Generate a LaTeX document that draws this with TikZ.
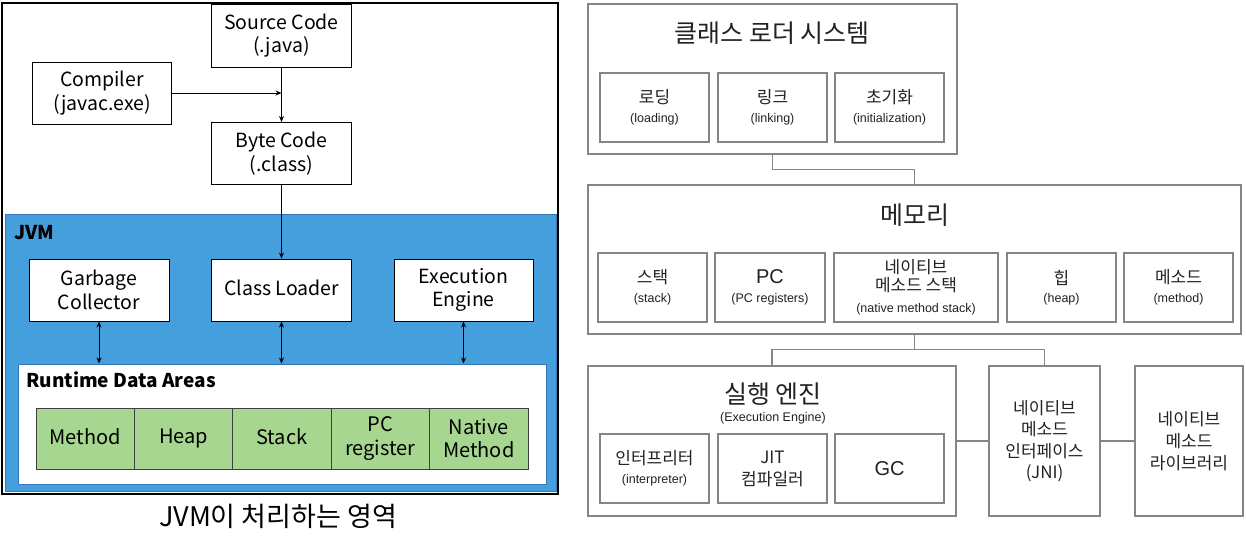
\documentclass[tikz,border=0pt]{standalone}
\usepackage{fontspec}
\setmainfont{Liberation Sans}
\newfontfamily\kr{Noto Sans CJK KR}
\usetikzlibrary{arrows.meta}
\definecolor{jvmblue}{HTML}{449FDC}
\definecolor{jvmedge}{HTML}{3478B8}
\definecolor{cellgreen}{HTML}{A6D68F}
\definecolor{celledge}{HTML}{404040}
\definecolor{rline}{HTML}{858585}
\definecolor{rtext}{HTML}{222222}
\tikzset{
  lbox/.style={draw=black, line width=1pt, fill=white, inner sep=0pt, align=center,
    font=\kr\fontsize{19.5}{23.5}\selectfont},
  cell/.style={draw=celledge, line width=1pt, fill=cellgreen, inner sep=0pt, align=center,
    minimum width=98.4, minimum height=61, font=\kr\fontsize{20}{23.5}\selectfont},
  larr/.style={line width=1pt, -{Stealth[length=6pt,width=5pt]}},
  darr/.style={line width=1pt, {Stealth[length=6pt,width=5pt]}-{Stealth[length=6pt,width=5pt]}},
  rbox/.style={draw=rline, line width=1.3pt, fill=white, inner sep=0pt, align=center, text=rtext},
  rsub/.style={rbox, minimum height=69, font=\fontsize{12.5}{18.5}\selectfont},
  rtitle/.style={text=rtext, inner sep=0pt, font=\kr\fontsize{25}{28}\selectfont},
  rcon/.style={draw=rline, line width=1.4pt},
}
\newcommand{\kl}[1]{{\kr\fontsize{17}{20}\selectfont #1}}
\begin{document}
\begin{tikzpicture}[x=1pt,y=-1pt]
\useasboundingbox (0,0) rectangle (1246,546);
\fill[white] (0,0) rectangle (1246,546);
% ---------------- left panel ----------------
\draw[line width=2.5pt] (2,3) rectangle (558,494);
\draw[fill=jvmblue, draw=jvmedge, line width=1pt] (5,214) rectangle (556,491);
\node[anchor=west, inner sep=0pt, font=\kr\bfseries\fontsize{19}{22}\selectfont] (jvm) at (14,233) {JVM};

\node[lbox, minimum width=140, minimum height=63] (src) at (281.5,35.5) {Source Code\\(.java)};
\node[lbox, minimum width=139, minimum height=62] (comp) at (102,93) {Compiler\\(javac.exe)};
\node[lbox, minimum width=140, minimum height=62] (byte) at (281.5,153.5) {Byte Code\\(.class)};
\node[lbox, minimum width=140, minimum height=62] (gc) at (99,290) {Garbage\\Collector};
\node[lbox, minimum width=140, minimum height=62] (cl) at (281.5,290) {Class Loader\vphantom{Lp}};
\node[lbox, minimum width=139, minimum height=62] (ee) at (463.5,290) {Execution\\Engine};
\node[draw=jvmedge, line width=1pt, fill=white, minimum width=528, minimum height=120, inner sep=0pt] (rda) at (282,424) {};
\node[anchor=west, inner sep=0pt, font=\kr\bfseries\fontsize{19}{22}\selectfont] (rdal) at (26,380) {Runtime Data Areas};

\node[cell] (m1) at (85.2,438.5) {Method\vphantom{Hp}};
\node[cell] (m2) at (183.6,438.5) {Heap\vphantom{Hp}};
\node[cell] (m3) at (282,438.5) {Stack\vphantom{Hp}};
\node[cell] (m4) at (380.4,438.5) {PC\\register};
\node[cell] (m5) at (478.8,438.5) {Native\\Method};

\coordinate (join) at (281.5,93);
\draw[larr] (src.south) -- (byte.north);
\draw[larr] (comp.east) -- (join);
\draw[larr] (byte.south) -- (cl.north);
\draw[darr] (gc.south) -- (gc.south |- rda.north);
\draw[darr] (cl.south) -- (cl.south |- rda.north);
\draw[darr] (ee.south) -- (ee.south |- rda.north);

\node[inner sep=0pt, font=\kr\fontsize{27}{30}\selectfont] (cap) at (278,516) {JVM이 처리하는 영역};

% ---------------- right panel ----------------
\node[rbox, minimum width=369, minimum height=150] (cls) at (772.5,79) {};
\node[rtitle] (clst) at (772,33) {클래스 로더 시스템};
\node[rsub, minimum width=109] (load) at (654.5,107.5) {\kl{로딩}\\(loading)};
\node[rsub, minimum width=109] (link) at (772.5,107.5) {\kl{링크}\\(linking)};
\node[rsub, minimum width=109] (init) at (889.5,107.5) {\kl{초기화}\\(initialization)};

\node[rbox, minimum width=653, minimum height=149] (mem) at (914.5,259.5) {};
\node[rtitle] (memt) at (915,215) {메모리};
\node[rsub, minimum width=109] (stk) at (652.5,287.5) {\kl{스택}\\(stack)};
\node[rsub, minimum width=110] (pc) at (770,287.5) {{\fontsize{20}{20}\selectfont PC}\\(PC registers)};
\node[rsub, minimum width=164] (nms) at (916,287.5) {\kl{네이티브}\\[-1pt]\kl{메소드 스택}\\[3pt](native method stack)};
\node[rsub, minimum width=109] (heap) at (1061.5,287.5) {\kl{힙}\\(heap)};
\node[rsub, minimum width=109] (meth) at (1178.5,287.5) {\kl{메소드}\\(method)};

\node[rbox, minimum width=368, minimum height=150] (ex) at (772,441) {};
\node[rtitle] (ext) at (773,394) {실행 엔진};
\node[text=rtext, inner sep=0pt, font=\fontsize{12.5}{14}\selectfont] (exs) at (773,418) {(Execution Engine)};
\node[rsub, minimum width=109] (intp) at (654.5,468.5) {\kl{인터프리터}\\(interpreter)};
\node[rsub, minimum width=109, font=\kr\fontsize{17}{22}\selectfont] (jit) at (772.5,468.5) {JIT\\컴파일러};
\node[rsub, minimum width=109, font=\fontsize{20}{22}\selectfont] (gcr) at (889.5,468.5) {GC};

\node[rbox, minimum width=111, minimum height=150, font=\kr\fontsize{17}{21.5}\selectfont] (jni) at (1044.5,441) {네이티브\\메소드\\인터페이스\\(JNI)};
\node[rbox, minimum width=108, minimum height=150, font=\kr\fontsize{17}{22}\selectfont] (lib) at (1189,441) {네이티브\\메소드\\라이브러리};

\draw[rcon] (cls.south) -- ++(0,15) -| (mem.north);
\draw[rcon] (mem.south) -- ++(0,15) coordinate (mj);
\draw[rcon] (ex.north) |- (mj) -| (jni.north);
\draw[rcon] (ex.east) -- (jni.west);
\draw[rcon] (jni.east) -- (lib.west);
\end{tikzpicture}
\end{document}
